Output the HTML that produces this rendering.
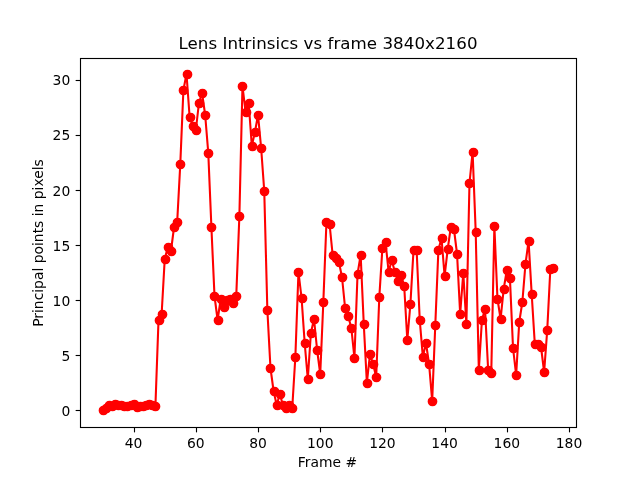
<!DOCTYPE html>
<html lang="en"><head><meta charset="utf-8"><title>Lens Intrinsics vs frame 3840x2160</title>
<style>html,body{margin:0;padding:0;background:#fff;overflow:hidden}svg{display:block;will-change:transform}.t{filter:grayscale(1)}</style></head>
<body>
<svg width="640" height="480" viewBox="0 0 640 480">
<rect width="640" height="480" fill="#fff"/>
<polyline points="102.55,410.0 105.66,408.0 108.76,405.0 111.87,406.0 114.98,404.0 118.09,405.0 121.20,405.0 124.31,406.0 127.42,406.0 130.53,405.0 133.64,404.0 136.75,407.0 139.86,406.0 142.97,406.0 146.08,405.0 149.19,404.0 152.30,405.0 155.41,406.0 158.52,320.0 161.63,314.0 164.74,259.0 167.85,247.0 170.96,251.0 174.07,227.0 177.18,222.0 180.29,164.0 183.40,90.0 186.51,74.0 189.62,117.0 192.73,126.0 195.84,130.0 198.95,103.0 202.06,93.0 205.17,115.0 208.28,153.0 211.39,227.0 214.50,296.0 217.61,320.0 220.71,299.0 223.82,307.0 226.93,300.0 230.04,299.0 233.15,303.0 236.26,296.0 239.37,216.0 242.48,86.0 245.59,112.0 248.70,103.0 251.81,146.0 254.92,132.0 258.03,115.0 261.14,148.0 264.25,191.0 267.36,310.0 270.47,368.0 273.58,391.0 276.69,405.0 279.80,394.0 282.91,405.0 286.02,408.0 289.13,405.0 292.24,408.0 295.35,357.0 298.46,272.0 301.57,298.0 304.68,343.0 307.79,379.0 310.90,333.0 314.01,319.0 317.12,350.0 320.23,374.0 323.34,302.0 326.45,222.0 329.55,224.0 332.66,255.0 335.77,258.0 338.88,262.0 341.99,277.0 345.10,308.0 348.21,316.0 351.32,328.0 354.43,358.0 357.54,274.0 360.65,255.0 363.76,324.0 366.87,383.0 369.98,354.0 373.09,364.0 376.20,377.0 379.31,297.0 382.42,248.0 385.53,242.0 388.64,272.0 391.75,260.0 394.86,272.0 397.97,281.0 401.08,275.0 404.19,286.0 407.30,340.0 410.41,304.0 413.52,250.0 416.63,250.0 419.74,320.0 422.85,357.0 425.96,343.0 429.07,364.0 432.18,401.0 435.29,325.0 438.39,250.0 441.50,238.0 444.61,276.0 447.72,249.0 450.83,227.0 453.94,229.0 457.05,254.0 460.16,314.0 463.27,273.0 466.38,324.0 469.49,183.0 472.60,152.0 475.71,232.0 478.82,370.0 481.93,320.0 485.04,309.0 488.15,370.0 491.26,373.0 494.37,226.0 497.48,299.0 500.59,319.0 503.70,289.0 506.81,270.0 509.92,278.0 513.03,348.0 516.14,375.0 519.25,322.0 522.36,302.0 525.47,264.0 528.58,241.0 531.69,294.0 534.80,344.0 537.91,344.0 541.02,347.0 544.13,372.0 547.24,330.0 550.34,269.0 553.45,268.0" fill="none" stroke="#f00" stroke-width="2.083" stroke-linejoin="round" stroke-linecap="square"/>
<g fill="#f00" stroke="#f00" stroke-width="1.389">
<circle cx="103.5" cy="410.5" r="4.167"/>
<circle cx="106.5" cy="408.5" r="4.167"/>
<circle cx="109.5" cy="405.5" r="4.167"/>
<circle cx="112.5" cy="406.5" r="4.167"/>
<circle cx="115.5" cy="404.5" r="4.167"/>
<circle cx="118.5" cy="405.5" r="4.167"/>
<circle cx="121.5" cy="405.5" r="4.167"/>
<circle cx="124.5" cy="406.5" r="4.167"/>
<circle cx="127.5" cy="406.5" r="4.167"/>
<circle cx="131.5" cy="405.5" r="4.167"/>
<circle cx="134.5" cy="404.5" r="4.167"/>
<circle cx="137.5" cy="407.5" r="4.167"/>
<circle cx="140.5" cy="406.5" r="4.167"/>
<circle cx="143.5" cy="406.5" r="4.167"/>
<circle cx="146.5" cy="405.5" r="4.167"/>
<circle cx="149.5" cy="404.5" r="4.167"/>
<circle cx="152.5" cy="405.5" r="4.167"/>
<circle cx="155.5" cy="406.5" r="4.167"/>
<circle cx="159.5" cy="320.5" r="4.167"/>
<circle cx="162.5" cy="314.5" r="4.167"/>
<circle cx="165.5" cy="259.5" r="4.167"/>
<circle cx="168.5" cy="247.5" r="4.167"/>
<circle cx="171.5" cy="251.5" r="4.167"/>
<circle cx="174.5" cy="227.5" r="4.167"/>
<circle cx="177.5" cy="222.5" r="4.167"/>
<circle cx="180.5" cy="164.5" r="4.167"/>
<circle cx="183.5" cy="90.5" r="4.167"/>
<circle cx="187.5" cy="74.5" r="4.167"/>
<circle cx="190.5" cy="117.5" r="4.167"/>
<circle cx="193.5" cy="126.5" r="4.167"/>
<circle cx="196.5" cy="130.5" r="4.167"/>
<circle cx="199.5" cy="103.5" r="4.167"/>
<circle cx="202.5" cy="93.5" r="4.167"/>
<circle cx="205.5" cy="115.5" r="4.167"/>
<circle cx="208.5" cy="153.5" r="4.167"/>
<circle cx="211.5" cy="227.5" r="4.167"/>
<circle cx="214.5" cy="296.5" r="4.167"/>
<circle cx="218.5" cy="320.5" r="4.167"/>
<circle cx="221.5" cy="299.5" r="4.167"/>
<circle cx="224.5" cy="307.5" r="4.167"/>
<circle cx="227.5" cy="300.5" r="4.167"/>
<circle cx="230.5" cy="299.5" r="4.167"/>
<circle cx="233.5" cy="303.5" r="4.167"/>
<circle cx="236.5" cy="296.5" r="4.167"/>
<circle cx="239.5" cy="216.5" r="4.167"/>
<circle cx="242.5" cy="86.5" r="4.167"/>
<circle cx="246.5" cy="112.5" r="4.167"/>
<circle cx="249.5" cy="103.5" r="4.167"/>
<circle cx="252.5" cy="146.5" r="4.167"/>
<circle cx="255.5" cy="132.5" r="4.167"/>
<circle cx="258.5" cy="115.5" r="4.167"/>
<circle cx="261.5" cy="148.5" r="4.167"/>
<circle cx="264.5" cy="191.5" r="4.167"/>
<circle cx="267.5" cy="310.5" r="4.167"/>
<circle cx="270.5" cy="368.5" r="4.167"/>
<circle cx="274.5" cy="391.5" r="4.167"/>
<circle cx="277.5" cy="405.5" r="4.167"/>
<circle cx="280.5" cy="394.5" r="4.167"/>
<circle cx="283.5" cy="405.5" r="4.167"/>
<circle cx="286.5" cy="408.5" r="4.167"/>
<circle cx="289.5" cy="405.5" r="4.167"/>
<circle cx="292.5" cy="408.5" r="4.167"/>
<circle cx="295.5" cy="357.5" r="4.167"/>
<circle cx="298.5" cy="272.5" r="4.167"/>
<circle cx="302.5" cy="298.5" r="4.167"/>
<circle cx="305.5" cy="343.5" r="4.167"/>
<circle cx="308.5" cy="379.5" r="4.167"/>
<circle cx="311.5" cy="333.5" r="4.167"/>
<circle cx="314.5" cy="319.5" r="4.167"/>
<circle cx="317.5" cy="350.5" r="4.167"/>
<circle cx="320.5" cy="374.5" r="4.167"/>
<circle cx="323.5" cy="302.5" r="4.167"/>
<circle cx="326.5" cy="222.5" r="4.167"/>
<circle cx="330.5" cy="224.5" r="4.167"/>
<circle cx="333.5" cy="255.5" r="4.167"/>
<circle cx="336.5" cy="258.5" r="4.167"/>
<circle cx="339.5" cy="262.5" r="4.167"/>
<circle cx="342.5" cy="277.5" r="4.167"/>
<circle cx="345.5" cy="308.5" r="4.167"/>
<circle cx="348.5" cy="316.5" r="4.167"/>
<circle cx="351.5" cy="328.5" r="4.167"/>
<circle cx="354.5" cy="358.5" r="4.167"/>
<circle cx="358.5" cy="274.5" r="4.167"/>
<circle cx="361.5" cy="255.5" r="4.167"/>
<circle cx="364.5" cy="324.5" r="4.167"/>
<circle cx="367.5" cy="383.5" r="4.167"/>
<circle cx="370.5" cy="354.5" r="4.167"/>
<circle cx="373.5" cy="364.5" r="4.167"/>
<circle cx="376.5" cy="377.5" r="4.167"/>
<circle cx="379.5" cy="297.5" r="4.167"/>
<circle cx="382.5" cy="248.5" r="4.167"/>
<circle cx="386.5" cy="242.5" r="4.167"/>
<circle cx="389.5" cy="272.5" r="4.167"/>
<circle cx="392.5" cy="260.5" r="4.167"/>
<circle cx="395.5" cy="272.5" r="4.167"/>
<circle cx="398.5" cy="281.5" r="4.167"/>
<circle cx="401.5" cy="275.5" r="4.167"/>
<circle cx="404.5" cy="286.5" r="4.167"/>
<circle cx="407.5" cy="340.5" r="4.167"/>
<circle cx="410.5" cy="304.5" r="4.167"/>
<circle cx="414.5" cy="250.5" r="4.167"/>
<circle cx="417.5" cy="250.5" r="4.167"/>
<circle cx="420.5" cy="320.5" r="4.167"/>
<circle cx="423.5" cy="357.5" r="4.167"/>
<circle cx="426.5" cy="343.5" r="4.167"/>
<circle cx="429.5" cy="364.5" r="4.167"/>
<circle cx="432.5" cy="401.5" r="4.167"/>
<circle cx="435.5" cy="325.5" r="4.167"/>
<circle cx="438.5" cy="250.5" r="4.167"/>
<circle cx="442.5" cy="238.5" r="4.167"/>
<circle cx="445.5" cy="276.5" r="4.167"/>
<circle cx="448.5" cy="249.5" r="4.167"/>
<circle cx="451.5" cy="227.5" r="4.167"/>
<circle cx="454.5" cy="229.5" r="4.167"/>
<circle cx="457.5" cy="254.5" r="4.167"/>
<circle cx="460.5" cy="314.5" r="4.167"/>
<circle cx="463.5" cy="273.5" r="4.167"/>
<circle cx="466.5" cy="324.5" r="4.167"/>
<circle cx="469.5" cy="183.5" r="4.167"/>
<circle cx="473.5" cy="152.5" r="4.167"/>
<circle cx="476.5" cy="232.5" r="4.167"/>
<circle cx="479.5" cy="370.5" r="4.167"/>
<circle cx="482.5" cy="320.5" r="4.167"/>
<circle cx="485.5" cy="309.5" r="4.167"/>
<circle cx="488.5" cy="370.5" r="4.167"/>
<circle cx="491.5" cy="373.5" r="4.167"/>
<circle cx="494.5" cy="226.5" r="4.167"/>
<circle cx="497.5" cy="299.5" r="4.167"/>
<circle cx="501.5" cy="319.5" r="4.167"/>
<circle cx="504.5" cy="289.5" r="4.167"/>
<circle cx="507.5" cy="270.5" r="4.167"/>
<circle cx="510.5" cy="278.5" r="4.167"/>
<circle cx="513.5" cy="348.5" r="4.167"/>
<circle cx="516.5" cy="375.5" r="4.167"/>
<circle cx="519.5" cy="322.5" r="4.167"/>
<circle cx="522.5" cy="302.5" r="4.167"/>
<circle cx="525.5" cy="264.5" r="4.167"/>
<circle cx="529.5" cy="241.5" r="4.167"/>
<circle cx="532.5" cy="294.5" r="4.167"/>
<circle cx="535.5" cy="344.5" r="4.167"/>
<circle cx="538.5" cy="344.5" r="4.167"/>
<circle cx="541.5" cy="347.5" r="4.167"/>
<circle cx="544.5" cy="372.5" r="4.167"/>
<circle cx="547.5" cy="330.5" r="4.167"/>
<circle cx="550.5" cy="269.5" r="4.167"/>
<circle cx="553.5" cy="268.5" r="4.167"/>
</g>
<g stroke="#000" stroke-width="1.111" fill="none">
<line x1="134.5" y1="427.0" x2="134.5" y2="432.36"/>
<line x1="196.5" y1="427.0" x2="196.5" y2="432.36"/>
<line x1="258.5" y1="427.0" x2="258.5" y2="432.36"/>
<line x1="320.5" y1="427.0" x2="320.5" y2="432.36"/>
<line x1="382.5" y1="427.0" x2="382.5" y2="432.36"/>
<line x1="445.5" y1="427.0" x2="445.5" y2="432.36"/>
<line x1="507.5" y1="427.0" x2="507.5" y2="432.36"/>
<line x1="569.5" y1="427.0" x2="569.5" y2="432.36"/>
<line x1="81.0" y1="410.5" x2="75.64" y2="410.5"/>
<line x1="81.0" y1="355.5" x2="75.64" y2="355.5"/>
<line x1="81.0" y1="300.5" x2="75.64" y2="300.5"/>
<line x1="81.0" y1="245.5" x2="75.64" y2="245.5"/>
<line x1="81.0" y1="190.5" x2="75.64" y2="190.5"/>
<line x1="81.0" y1="135.5" x2="75.64" y2="135.5"/>
<line x1="81.0" y1="80.5" x2="75.64" y2="80.5"/>
<rect x="80.5" y="58.5" width="496.0" height="369.0" stroke-linejoin="miter"/>
</g>
<g class="t" style="font-family:'DejaVu Sans','Liberation Sans',sans-serif;font-size:13.889px" fill="#000">
<text x="133.64" y="448" text-anchor="middle">40</text>
<text x="195.84" y="448" text-anchor="middle">60</text>
<text x="258.03" y="448" text-anchor="middle">80</text>
<text x="320.23" y="448" text-anchor="middle">100</text>
<text x="382.42" y="448" text-anchor="middle">120</text>
<text x="444.61" y="448" text-anchor="middle">140</text>
<text x="506.81" y="448" text-anchor="middle">160</text>
<text x="569.00" y="448" text-anchor="middle">180</text>
<text x="70.28" y="416" text-anchor="end">0</text>
<text x="70.28" y="361" text-anchor="end">5</text>
<text x="70.28" y="306" text-anchor="end">10</text>
<text x="70.28" y="251" text-anchor="end">15</text>
<text x="70.28" y="196" text-anchor="end">20</text>
<text x="70.28" y="140" text-anchor="end">25</text>
<text x="70.28" y="85" text-anchor="end">30</text>
<text x="327.5" y="467" text-anchor="middle">Frame #</text>
<text transform="translate(43,243) rotate(-90)" text-anchor="middle">Principal points in pixels</text>
</g>
<text x="328" y="49.27" text-anchor="middle" class="t" style="font-family:'DejaVu Sans','Liberation Sans',sans-serif;font-size:16.667px;letter-spacing:0.05px" fill="#000">Lens Intrinsics vs frame 3840x2160</text>
</svg>
</body></html>
